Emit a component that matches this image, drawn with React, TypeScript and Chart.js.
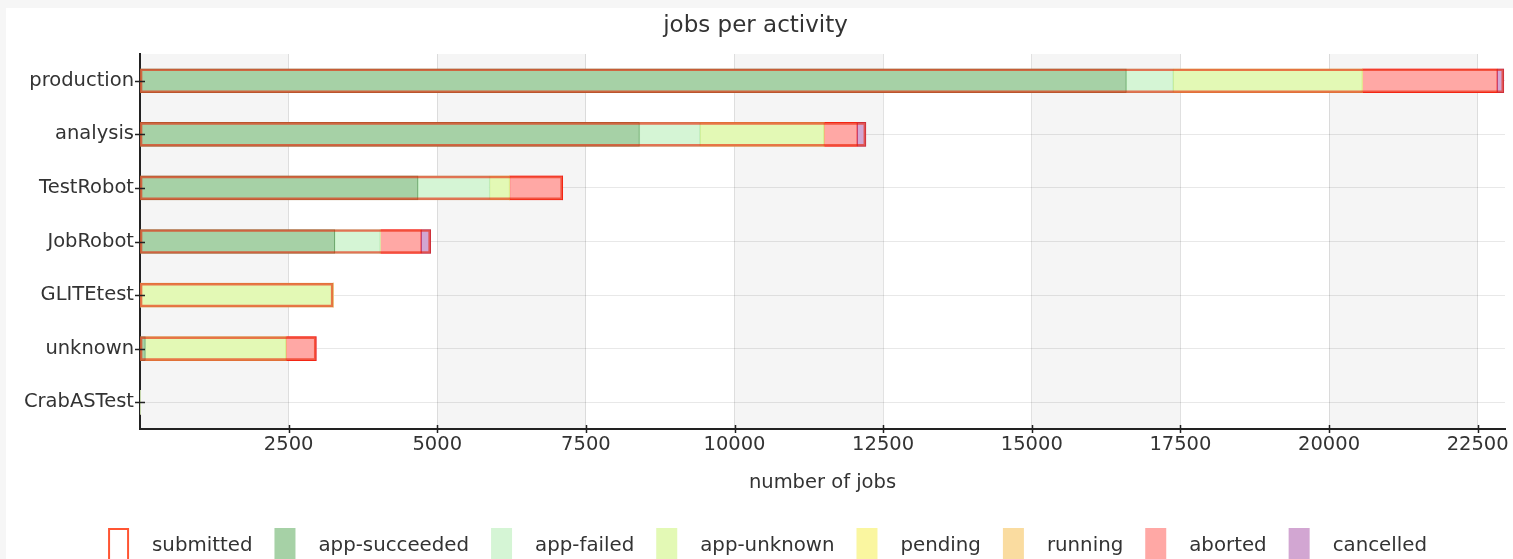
import React, { useEffect, useRef } from 'react';
import { Chart, registerables } from 'chart.js';

Chart.register(...registerables);

const categories = ['production', 'analysis', 'TestRobot', 'JobRobot', 'GLITEtest', 'unknown', 'CrabASTest'];
const submitted = [22940, 12210, 7110, 4890, 3250, 2965, 0];
const appSucceeded = [16590, 8400, 4675, 3275, 0, 90, 0];
const appFailed = [790, 1020, 1205, 765, 0, 0, 0];
const appUnknown = [3180, 2085, 335, 0, 3250, 2365, 0];
const pending = [0, 0, 0, 0, 0, 0, 0];
const running = [0, 0, 0, 0, 0, 0, 0];
const aborted = [2270, 560, 895, 690, 0, 510, 0];
const cancelled = [110, 145, 0, 160, 0, 0, 0];
const xTickValues = [2500, 5000, 7500, 10000, 12500, 15000, 17500, 20000, 22500];

const seriesLabels = ['submitted', 'app-succeeded', 'app-failed', 'app-unknown', 'pending', 'running', 'aborted', 'cancelled'];
const fillColors = ['rgba(0,0,0,0)', '#a6d1a6', '#d5f5d5', '#e3f9b5', '#faf6a0', '#fadca0', '#ffa8a5', '#d2a6d2'];
const edgeColors = ['rgba(235,30,0,0.6)', '#6fa86f', '#b8eab8', '#cfee8a', '#efe878', '#efc878', '#ff3030', '#a04890'];
const legendColors = ['#ff5533', '#a6d1a6', '#d5f5d5', '#e3f9b5', '#faf6a0', '#fadca0', '#ffa8a5', '#d2a6d2'];

const X_MAX = 22960;
const X_STEP = 2500;
const FONT = 'DejaVu Sans';
const TEXT = '#333';

const bandsPlugin = {
  id: 'bands',
  beforeDraw(chart: any) {
    const { ctx, chartArea } = chart;
    const x = chart.scales.x;
    ctx.save();
    for (let v = 0, k = 0; v < X_MAX; v += X_STEP, k++) {
      if (k % 2 === 0) {
        const a = x.getPixelForValue(v);
        const b = x.getPixelForValue(Math.min(v + X_STEP, X_MAX));
        ctx.fillStyle = '#f5f5f5';
        ctx.fillRect(a, chartArea.top, b - a, chartArea.bottom - chartArea.top);
      }
    }
    ctx.restore();
  },
};

const tickMarksPlugin = {
  id: 'tickMarks',
  afterDatasetsDraw(chart: any) {
    const { ctx, chartArea } = chart;
    const x = chart.scales.x;
    const y = chart.scales.y;
    ctx.save();
    ctx.strokeStyle = '#222';
    ctx.lineWidth = 1.5;
    ctx.beginPath();
    x.ticks.forEach((t: any) => {
      const px = Math.round(x.getPixelForValue(t.value)) + 0.5;
      ctx.moveTo(px, chartArea.bottom - 4);
      ctx.lineTo(px, chartArea.bottom + 4);
    });
    categories.forEach((_c, i) => {
      const py = Math.round(y.getPixelForValue(i)) + 0.5;
      ctx.moveTo(chartArea.left - 5, py);
      ctx.lineTo(chartArea.left + 5, py);
    });
    ctx.stroke();
    ctx.restore();
  },
};

const legendPlugin = {
  id: 'customLegend',
  afterDraw(chart: any) {
    const { ctx } = chart;
    ctx.save();
    ctx.font = `19.8px "${FONT}"`;
    const boxW = 21;
    const boxGap = 23;
    const itemGap = 22;
    const widths = seriesLabels.map((l) => ctx.measureText(l).width);
    let total = 0;
    widths.forEach((w, i) => {
      total += boxW + boxGap + w + (i < widths.length - 1 ? itemGap : 0);
    });
    let cx = 761.5 - total / 2;
    const boxTop = 520;
    const textY = 537.5;
    seriesLabels.forEach((label, i) => {
      if (i === 0) {
        ctx.fillStyle = '#fff';
        ctx.fillRect(cx, boxTop, boxW, 40);
        ctx.strokeStyle = legendColors[i];
        ctx.lineWidth = 2;
        ctx.strokeRect(cx + 1, boxTop + 1, boxW - 2, 40);
      } else {
        ctx.fillStyle = legendColors[i];
        ctx.fillRect(cx, boxTop, boxW, 40);
      }
      ctx.fillStyle = TEXT;
      ctx.textBaseline = 'middle';
      ctx.textAlign = 'left';
      ctx.fillText(label, cx + boxW + boxGap, textY);
      cx += boxW + boxGap + widths[i] + itemGap;
    });
    ctx.restore();
  },
};

export default function App() {
  const ref = useRef<HTMLCanvasElement | null>(null);

  useEffect(() => {
    document.body.style.margin = '0';
    document.body.style.background = '#f6f6f6';
    if (!ref.current) return;
    const seriesData = [submitted, appSucceeded, appFailed, appUnknown, pending, running, aborted, cancelled];
    const datasets = seriesLabels.map((label, i) => ({
      label,
      data: seriesData[i],
      backgroundColor: fillColors[i],
      borderColor: edgeColors[i],
      borderWidth: (c: any) => (c.raw ? (i === 0 ? 2 : 1) : 0),
      borderSkipped: false,
      barThickness: 24,
      stack: i === 0 ? 'total' : 'parts',
      grouped: i === 0 ? false : true,
    }));

    const chart = new Chart(ref.current, {
      type: 'bar',
      data: { labels: categories, datasets },
      options: {
        indexAxis: 'y',
        animation: false,
        responsive: false,
        layout: { padding: { top: 0, right: 8, bottom: 56, left: 0 } },
        plugins: {
          legend: { display: false },
          tooltip: { enabled: false },
          title: {
            display: true,
            text: 'jobs per activity',
            color: TEXT,
            font: { family: FONT, size: 23, weight: 'normal' },
            padding: { top: 4.5, bottom: 13.9 },
          },
        },
        scales: {
          x: {
            type: 'linear',
            stacked: true,
            min: 0,
            max: X_MAX,
            ticks: {
              color: TEXT,
              padding: 0,
              font: { family: FONT, size: 19.5 },
              maxRotation: 0,
              autoSkip: false,
              callback: (v: any) => String(v),
            },
            afterBuildTicks: (axis: any) => {
              axis.ticks = xTickValues.map((v) => ({ value: v }));
            },
            afterFit: (axis: any) => {
              axis.height = 74;
            },
            grid: {
              color: 'rgba(0,0,0,0.11)',
              lineWidth: 1,
              tickLength: 4,
              tickColor: 'rgba(0,0,0,0)',
            },
            border: { display: true, color: '#222', width: 2 },
            title: {
              display: true,
              text: 'number of jobs',
              color: TEXT,
              font: { family: FONT, size: 19.5 },
              padding: { top: 0, bottom: 8.3 },
            },
          },
          y: {
            type: 'category',
            stacked: true,
            offset: true,
            ticks: {
              color: TEXT,
              padding: 0,
              font: { family: FONT, size: 19.5 },
              autoSkip: false,
            },
            afterFit: (axis: any) => {
              axis.width = 134;
            },
            grid: { offset: false, color: 'rgba(0,0,0,0.09)', lineWidth: 1, tickLength: 6, tickColor: 'rgba(0,0,0,0)' },
            border: { display: true, color: '#222', width: 2 },
          },
        },
      } as any,
      plugins: [bandsPlugin, tickMarksPlugin, legendPlugin],
    });
    return () => chart.destroy();
  }, []);

  return (
    <div style={{ position: 'absolute', left: 6, top: 8, width: 1507, height: 551, background: '#fff' }}>
      <canvas ref={ref} width={1507} height={551} style={{ display: 'block' }} />
    </div>
  );
}
